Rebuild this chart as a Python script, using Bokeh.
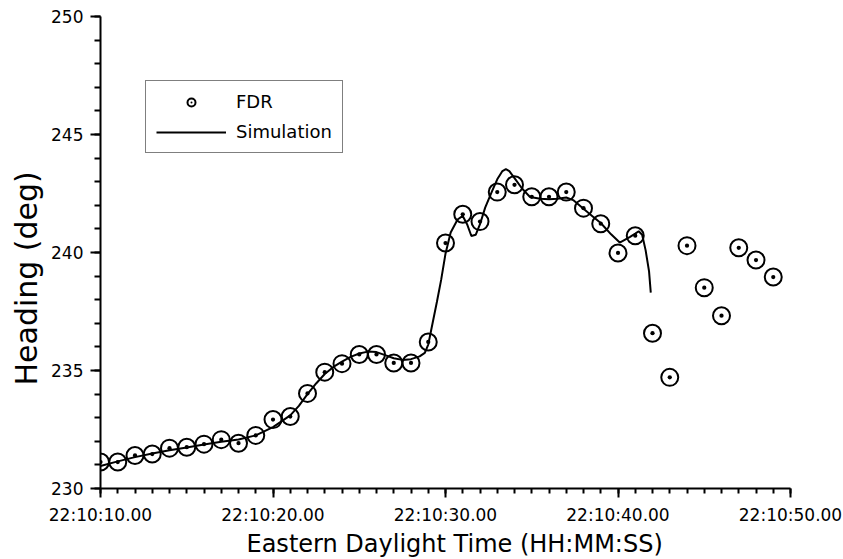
from bokeh.plotting import figure
from bokeh.models import Range1d, FixedTicker, Legend, LegendItem, Title
from bokeh.embed import file_html
from bokeh.resources import INLINE

# ---- data (seconds after 22:10:10) ----
fdr_t = [0, 1, 2, 3, 4, 5, 6, 7, 8, 9,
         10, 11, 12, 13, 14, 15, 16, 17, 18, 19,
         20, 21, 22, 23, 24, 25, 26, 27, 28, 29,
         30, 31, 32, 33, 34, 35, 36, 37, 38, 39]
fdr_heading = [231.12, 231.12, 231.40, 231.46, 231.71, 231.75, 231.88, 232.07, 231.92, 232.25,
               232.92, 233.05, 234.03, 234.93, 235.29, 235.68, 235.68, 235.32, 235.32, 236.21,
               240.40, 241.62, 241.31, 242.56, 242.87, 242.36, 242.36, 242.56, 241.88, 241.22,
               239.98, 240.71, 236.58, 234.71, 240.29, 238.51, 237.32, 240.20, 239.68, 238.96]

sim_t = [0, 1, 2, 3, 4, 5, 6, 7, 8, 9, 10, 11, 11.5, 12, 12.5, 13, 13.5, 14, 14.5, 15,
         15.5, 16, 16.5, 17, 17.5, 18, 18.5, 18.8, 19, 19.25, 19.5, 19.75, 20, 20.3, 20.7,
         21, 21.25, 21.5, 21.75, 22, 22.3, 22.7, 23, 23.3, 23.5, 23.7, 24, 24.45, 24.9,
         25.5, 26, 26.5, 27, 27.4, 28, 28.5, 29, 29.6, 30.1, 30.7, 31, 31.2, 31.4, 31.6,
         31.8, 31.9]
sim_heading = [230.95, 231.15, 231.33, 231.48, 231.62, 231.74, 231.86, 231.98, 232.08, 232.25,
               232.60, 233.10, 233.50, 234.00, 234.45, 234.85, 235.15, 235.38, 235.58, 235.72,
               235.80, 235.78, 235.65, 235.52, 235.45, 235.48, 235.60, 235.75, 236.10, 237.00,
               237.90, 238.85, 239.95, 240.85, 241.40, 241.55, 241.20, 240.70, 240.75, 241.20,
               241.90, 242.60, 243.10, 243.45, 243.53, 243.45, 243.15, 242.70, 242.35,
               242.28, 242.26, 242.28, 242.33, 242.22, 241.85, 241.55, 241.25, 240.77, 240.42,
               240.66, 240.80, 240.90, 240.75, 240.10, 239.20, 238.30]

x_tick_values = [0, 10, 20, 30, 40]
x_tick_labels = ["22:10:10.00", "22:10:20.00", "22:10:30.00", "22:10:40.00", "22:10:50.00"]
y_tick_values = [230, 235, 240, 245, 250]
x_title = "Eastern Daylight Time (HH:MM:SS)"
y_title = "Heading (deg)"

FONT = "DejaVu Sans"

p = figure(width=843, height=557, output_backend="svg", toolbar_location=None,
           x_range=Range1d(0, 40), y_range=Range1d(230, 250),
           min_border_left=100, min_border_right=53, min_border_top=16, min_border_bottom=69)
p.outline_line_color = None
p.grid.visible = False
p.background_fill_color = "white"

sim = p.line(sim_t, sim_heading, line_color="black", line_width=2)
fdr = p.scatter(fdr_t, fdr_heading, marker="circle_dot", size=17, line_color="black",
                line_width=2, fill_color=None)

p.xaxis.ticker = FixedTicker(ticks=x_tick_values, minor_ticks=list(range(0, 41)))
p.xaxis.major_label_overrides = {v: s for v, s in zip(x_tick_values, x_tick_labels)}
p.yaxis.ticker = FixedTicker(ticks=y_tick_values, minor_ticks=list(range(230, 251)))

for ax in (p.xaxis[0], p.yaxis[0]):
    ax.axis_line_width = 2
    ax.axis_line_color = "black"
    ax.major_tick_line_width = 2
    ax.minor_tick_line_width = 2
    ax.major_tick_line_color = "black"
    ax.minor_tick_line_color = "black"
    ax.major_tick_in = 0
    ax.minor_tick_in = 0
    ax.major_tick_out = 10
    ax.minor_tick_out = 6
    ax.major_label_text_font = FONT
    ax.major_label_text_font_size = "17px"
    ax.major_label_text_color = "black"

p.xaxis.major_tick_out = 9
p.xaxis.minor_tick_out = 5
p.xaxis.major_label_standoff = 7
p.yaxis.major_label_standoff = 7

# axis titles as side titles, so they can sit slightly off-centre like the reference
xt = Title(text=x_title, align="left", offset=146, standoff=0,
           text_font=FONT, text_font_size="24px", text_font_style="normal",
           text_color="black")
p.add_layout(xt, "below")
yt = Title(text=y_title, align="left", offset=103, standoff=10,
           text_font=FONT, text_font_size="30px", text_font_style="normal",
           text_color="black")
p.add_layout(yt, "left")

legend = Legend(items=[LegendItem(label="FDR", renderers=[fdr]),
                       LegendItem(label="Simulation", renderers=[sim])],
                location=(45, 335))
legend.border_line_color = "black"
legend.border_line_width = 1.5
legend.background_fill_color = "white"
legend.background_fill_alpha = 1
legend.padding = 10
legend.spacing = 9
legend.margin = 0
legend.glyph_height = 20
legend.glyph_width = 70
legend.label_height = 20
legend.label_standoff = 10
legend.label_text_font = FONT
legend.label_text_font_size = "18px"
legend.label_text_color = "black"
p.add_layout(legend)

open("out.html", "w").write(file_html(p, INLINE))
